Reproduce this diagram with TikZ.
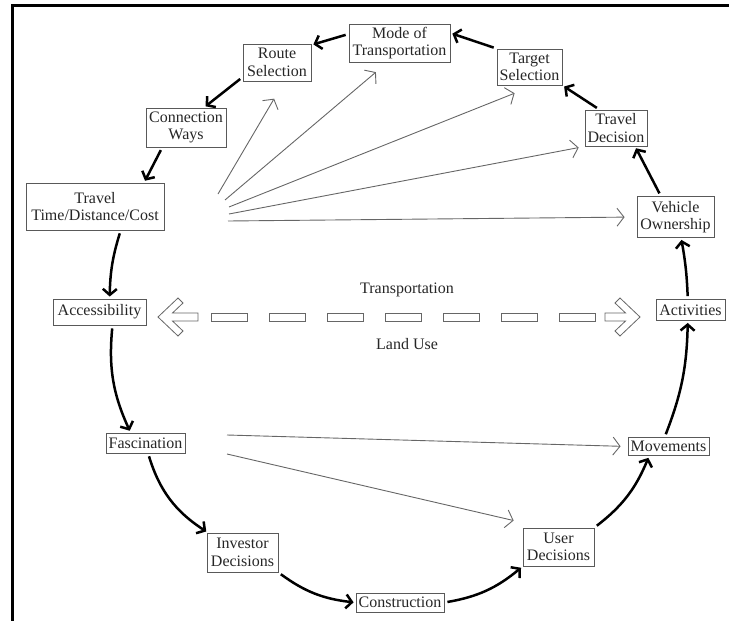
\documentclass[tikz,border=0pt]{standalone}
\usepackage{fontspec}
\setmainfont{Liberation Serif}
\usetikzlibrary{arrows.meta}
\tikzset{
  box/.style={draw=black!65, line width=0.9pt, text=black!85, inner sep=0pt, align=center,
    font=\fontsize{16}{17.5}\selectfont},
  lbl/.style={text=black!85, inner sep=0pt, font=\fontsize{16}{17.5}\selectfont},
  bigarr/.style={line width=2.5pt, -{Straight Barb[length=6pt,width=14pt]}, shorten <=3pt, shorten >=2pt},
  thinarr/.style={draw=black!60, line width=0.9pt, -{Straight Barb[length=7pt,width=18pt]}},
  hollow/.style={draw=black!60, line width=0.8pt, fill=white, line join=miter},
  frame/.style={line width=2.6pt, line join=miter}
}
\begin{document}
\begin{tikzpicture}[x=1pt,y=1pt]
\useasboundingbox (0,0) rectangle (729,-621);
% frame
\draw[frame] (729,-5.5) -- (12.7,-5.5) -- (12.7,-621);

% nodes
\node[box, minimum width=101pt, minimum height=38pt] (mode) at (399.5,-43) {Mode of\\Transportation};
\node[box, minimum width=68pt, minimum height=37pt] (route) at (277,-62.5) {Route\\Selection};
\node[box, minimum width=65pt, minimum height=36pt] (target) at (529.5,-67) {Target\\Selection};
\node[box, minimum width=80pt, minimum height=39pt] (conn) at (186,-127.5) {Connection\\Ways};
\node[box, minimum width=62pt, minimum height=36pt] (tdec) at (616,-128) {Travel\\Decision};
\node[box, minimum width=138pt, minimum height=47pt] (ttime) at (95,-206.5) {Travel\\Time/Distance/Cost};
\node[box, minimum width=77pt, minimum height=41pt] (veh) at (675.5,-217) {Vehicle\\Ownership};
\node[box, minimum width=93pt, minimum height=26pt] (acc) at (99.5,-312) {Accessibility};
\node[box, minimum width=69pt, minimum height=21pt] (act) at (690.5,-310) {Activities};
\node[box, minimum width=79pt, minimum height=20pt] (fasc) at (145.5,-443) {Fascination};
\node[box, minimum width=81pt, minimum height=18pt] (mov) at (668.5,-446.5) {Movements};
\node[box, minimum width=71pt, minimum height=39pt] (inv) at (242.5,-552.5) {Investor\\Decisions};
\node[box, minimum width=71pt, minimum height=38pt] (user) at (558.5,-547) {User\\Decisions};
\node[box, minimum width=88pt, minimum height=19pt] (cons) at (400,-602.5) {Construction};

% labels
\node[lbl] (tlab) at (407,-290) {Transportation};
\node[lbl] (llab) at (407,-344) {Land Use};

% thick cycle arrows
\draw[bigarr] (mode.170) -- (route.27);
\draw[bigarr] (route.203) -- (conn.48);
\draw[bigarr] (conn.220) -- (ttime.26);
\draw[bigarr] (ttime.317) to[bend right=8] (acc.53);
\draw[bigarr] (acc.314) to[bend right=15] (fasc.145);
\draw[bigarr] (fasc.284) to[bend right=20] (inv.150);
\draw[bigarr] (inv.south east) to[bend right=15] (cons.west);
\draw[bigarr] (cons.east) to[bend right=15] (user.south west);
\draw[bigarr] (user.north east) to[bend right=15] (mov.206);
\draw[bigarr] (mov.112) to[bend right=10] (act.256);
\draw[bigarr] (act.104) to[bend right=4] (veh.285);
\draw[bigarr] (veh.125) -- (tdec.316);
\draw[bigarr] (tdec.132) -- (target.south east);
\draw[bigarr] (target.north west) -- (mode.11);

% thin arrows
\coordinate (s1) at (218,-194);
\coordinate (s2) at (225,-200);
\coordinate (s3) at (229,-207);
\coordinate (s4) at (229,-214);
\coordinate (s5) at (228,-221);
\coordinate (s6) at (227,-435);
\coordinate (s7) at (227,-454);
\draw[thinarr, shorten >=20pt] (s1) -- (route.291);
\draw[thinarr, shorten >=15pt] (s2) -- (mode.238);
\draw[thinarr, shorten >=21pt] (s3) -- (target.284);
\draw[thinarr, shorten >=6pt] (s4) -- (tdec.south west);
\draw[thinarr, shorten >=12pt] (s5) -- (veh.west);
\draw[thinarr, shorten >=7pt] (s6) -- (mov.west);
\draw[thinarr, shorten >=31pt] (s7) -- (user.127);

% hollow dashed double arrow (Transportation / Land Use)
\draw[hollow] (158,-317) -- (178,-298) -- (183,-303) -- (172.5,-313) -- (198,-313) -- (198,-321)
  -- (172.5,-321) -- (183,-331) -- (178,-336) -- cycle;
\draw[hollow] (640,-317) -- (620,-298) -- (615,-303) -- (625.5,-313) -- (605,-313) -- (605,-321)
  -- (625.5,-321) -- (615,-331) -- (620,-336) -- cycle;
\foreach \x in {211,269,327,385,443,501,559}
  \draw[hollow] (\x,-313) rectangle ++(36,-8);
\end{tikzpicture}
\end{document}
